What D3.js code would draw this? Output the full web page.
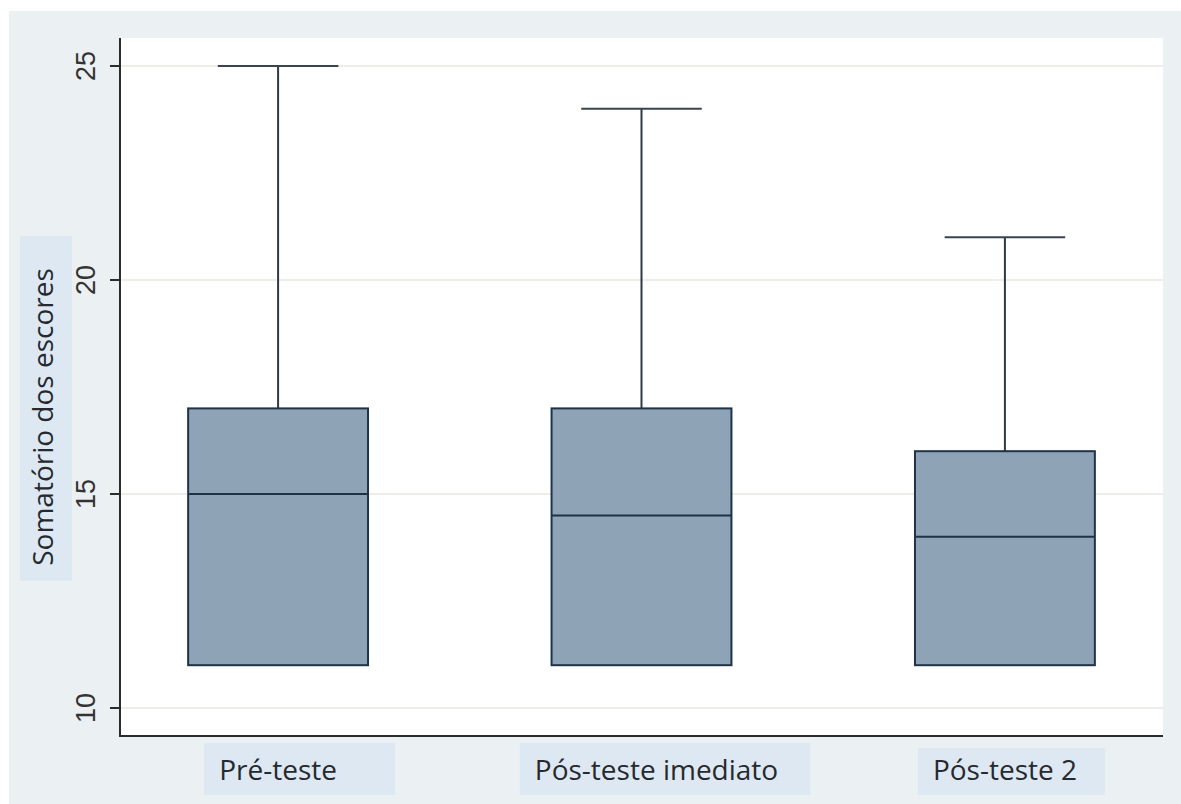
<!DOCTYPE html>
<html lang="pt">
<head>
<meta charset="UTF-8">
<title>Somatório dos escores</title>
<script src="https://cdnjs.cloudflare.com/ajax/libs/d3/7.8.5/d3.min.js"></script>
<style>
  body { margin: 0; background: #fff; }
  svg { display: block; }
  .lbl { font-family: "Open Sans", sans-serif; font-size: 28px; fill: #262a2e; }
  .tick-lbl { font-family: "Liberation Sans", sans-serif; font-size: 27px; fill: #333; }
</style>
</head>
<body>
<svg width="1181" height="804"></svg>
<script>
// dados
const grupos  = ["Pré-teste", "Pós-teste imediato", "Pós-teste 2"];
const minimo  = [11, 11, 11];
const q1      = [11, 11, 11];
const mediana = [15, 14.5, 14];
const q3      = [17, 17, 16];
const maximo  = [25, 24, 21];
const yTicks  = [10, 15, 20, 25];
const yTitulo = "Somatório dos escores";

// ajustes de layout dos rótulos (deslocamento do texto, margem direita da caixa)
const rotDx   = [0, 15, 0];
const rotPadR = [58, 32, 28];
const rotTopo = [-37, -37, -32];

const svg = d3.select("svg");
const W = 1181, H = 804;
const plot = { left: 120, right: 1163, top: 38, bottom: 736 };

// fundo
svg.append("rect").attr("x", 9).attr("y", 11).attr("width", W - 9).attr("height", H - 11)
  .attr("fill", "#ebf0f3");
svg.append("rect").attr("x", plot.left).attr("y", plot.top)
  .attr("width", plot.right - plot.left).attr("height", plot.bottom - plot.top)
  .attr("fill", "#ffffff");

const x = d3.scalePoint().domain(grupos).range([plot.left, plot.right]).padding(0.435);
const y = d3.scaleLinear().domain([10, 25]).range([708, 66]);
const boxW = x.step() * 0.495;
const capW = boxW * 0.67;

// grade
svg.append("g").selectAll("line").data(yTicks).join("line")
  .attr("x1", plot.left).attr("x2", plot.right)
  .attr("y1", d => y(d)).attr("y2", d => y(d))
  .attr("stroke", "#f0ece8").attr("stroke-width", 2);

const data = grupos.map((g, i) => ({ g, min: minimo[i], q1: q1[i], med: mediana[i], q3: q3[i], max: maximo[i] }));

const bx = svg.append("g").selectAll("g").data(data).join("g");
// bigode superior
bx.append("line")
  .attr("x1", d => x(d.g)).attr("x2", d => x(d.g))
  .attr("y1", d => y(d.q3)).attr("y2", d => y(d.max))
  .attr("stroke", "#2f3a44").attr("stroke-width", 2);
bx.append("line")
  .attr("x1", d => x(d.g) - capW / 2).attr("x2", d => x(d.g) + capW / 2)
  .attr("y1", d => y(d.max)).attr("y2", d => y(d.max))
  .attr("stroke", "#3a444d").attr("stroke-width", 2);
// bigode inferior (se houver)
bx.filter(d => d.min < d.q1).append("line")
  .attr("x1", d => x(d.g)).attr("x2", d => x(d.g))
  .attr("y1", d => y(d.q1)).attr("y2", d => y(d.min))
  .attr("stroke", "#2f3a44").attr("stroke-width", 2);
// caixa
bx.append("rect")
  .attr("x", d => x(d.g) - boxW / 2).attr("width", boxW)
  .attr("y", d => y(d.q3)).attr("height", d => y(d.q1) - y(d.q3))
  .attr("fill", "#8ea3b6").attr("stroke", "#1f3347").attr("stroke-width", 2);
bx.append("line")
  .attr("x1", d => x(d.g) - boxW / 2).attr("x2", d => x(d.g) + boxW / 2)
  .attr("y1", d => y(d.med)).attr("y2", d => y(d.med))
  .attr("stroke", "#1f3347").attr("stroke-width", 2);

// eixos
svg.append("line").attr("x1", plot.left).attr("x2", plot.left)
  .attr("y1", plot.top).attr("y2", plot.bottom + 1)
  .attr("stroke", "#2b2b2b").attr("stroke-width", 2);
svg.append("line").attr("x1", plot.left - 1).attr("x2", plot.right)
  .attr("y1", plot.bottom).attr("y2", plot.bottom)
  .attr("stroke", "#2b2b2b").attr("stroke-width", 2);

const yAxis = svg.append("g");
yAxis.selectAll("line").data(yTicks).join("line")
  .attr("x1", plot.left - 10).attr("x2", plot.left)
  .attr("y1", d => y(d)).attr("y2", d => y(d))
  .attr("stroke", "#2b2b2b").attr("stroke-width", 2);
yAxis.selectAll("text").data(yTicks).join("text")
  .attr("class", "tick-lbl")
  .attr("transform", d => `translate(95,${y(d)}) rotate(-90)`)
  .attr("text-anchor", "middle")
  .text(d => d);

// rótulo com caixa de fundo
function rotulo(g, txt, tx, ty, rot, padR, topo, alt) {
  const grp = g.append("g").attr("transform", `translate(${tx},${ty}) rotate(${rot})`);
  const bg = grp.append("rect").attr("fill", "#dee8f3");
  const t = grp.append("text").attr("class", "lbl").attr("text-anchor", "middle").text(txt);
  const b = t.node().getBBox();
  bg.attr("x", b.x - 15).attr("width", b.width + 15 + padR)
    .attr("y", topo).attr("height", alt);
}

const xl = svg.append("g");
grupos.forEach((g, i) => rotulo(xl, g, x(g) + rotDx[i], 780, 0, rotPadR[i], rotTopo[i], 15 - rotTopo[i]));
rotulo(svg, yTitulo, 53, 417, -90, 32, -33, 52);
</script>
</body>
</html>
